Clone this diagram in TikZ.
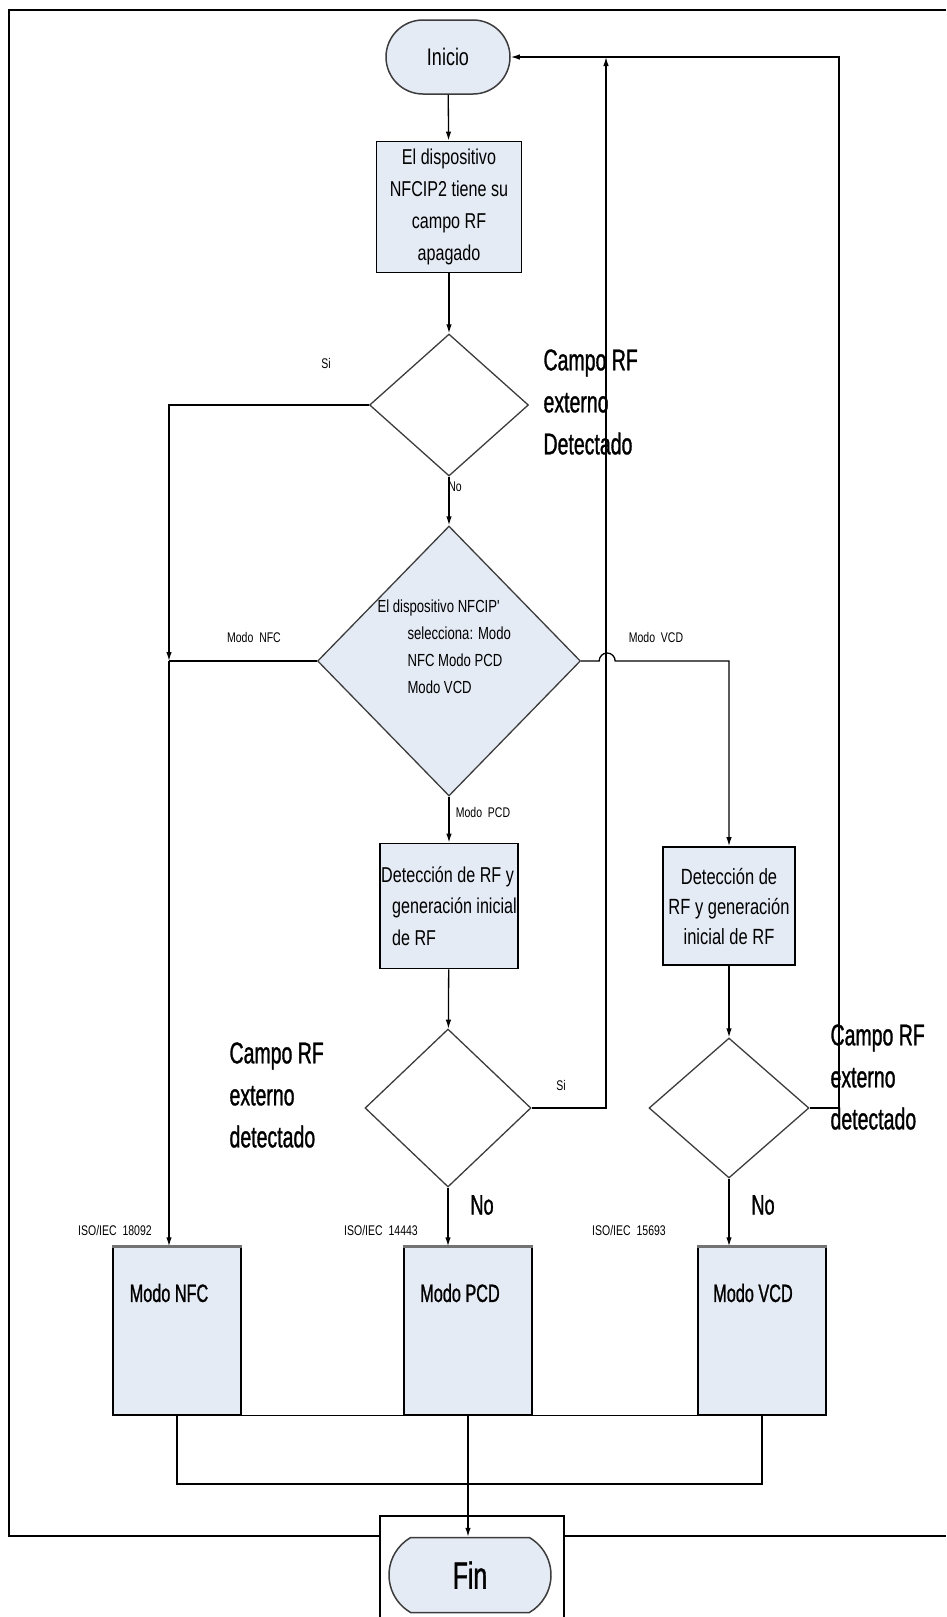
\documentclass[tikz,border=0pt]{standalone}
\usepackage{fontspec}
\newfontfamily\narrowfont[FakeStretch=0.75]{Liberation Sans}
\newfontfamily\condfont[FakeStretch=0.65, FakeBold=1]{Liberation Sans}
\usetikzlibrary{arrows.meta}
\usetikzlibrary{shapes.geometric}
\usetikzlibrary{shapes.misc}
\definecolor{boxblue}{RGB}{229,235,245}
\definecolor{rimgray}{RGB}{60,60,60}
\tikzstyle{arr}=[-{Latex[length=9pt,width=5.5pt]}, line width=1.3pt]
\tikzstyle{ln}=[line width=1.3pt]
\tikzstyle{term}=[rounded rectangle, draw=rimgray, line width=1.5pt, fill=boxblue, inner sep=0pt]
\tikzstyle{proc}=[rectangle, draw=black, line width=1.8pt, fill=boxblue, inner sep=0pt, align=center]
\tikzstyle{dia}=[diamond, draw=rimgray, line width=1.3pt, inner sep=0pt]
\tikzstyle{smalllbl}=[font=\narrowfont\fontsize{14}{16}\selectfont]
\tikzstyle{biglbl}=[font=\condfont\fontsize{30}{42}\selectfont, align=left, anchor=west]
\tikzstyle{topbar}=[line width=3pt, black!55]

\begin{document}
\begin{tikzpicture}[x=1pt, y=-1pt]
      \useasboundingbox (0,0) rectangle (946,1617);

      % marco exterior
      \draw[line width=2pt] (946,10) -- (9,10) -- (9,1536) -- (946,1536);

      \node[term, minimum width=124pt, minimum height=74pt, font=\narrowfont\fontsize{24}{28}\selectfont] (inicio) at (448,57) {Inicio};

      \node[proc, minimum width=145pt, minimum height=131pt, font=\narrowfont\fontsize{21.5}{32}\selectfont] (apag) at (449,207) {El dispositivo\\NFCIP2 tiene su\\campo RF\\apagado};

      \node[dia, minimum width=159pt, minimum height=142pt] (det1) at (449,405) {};
      \node[biglbl] (det1txt) at (540,402) {Campo RF\\externo\\Detectado};
      \node[smalllbl] (si1) at (326,363) {Si};
      \node[smalllbl] (no1) at (455,487) {No};

      \node[dia, fill=boxblue, minimum width=263pt, minimum height=270pt] (selec) at (449,661) {};
      \node[anchor=west, align=left, font=\narrowfont\fontsize{17.5}{27}\selectfont] (selectxt) at (374,647) {El dispositivo NFCIP'\\\hspace*{30pt}selecciona: Modo\\\hspace*{30pt}NFC Modo PCD\\\hspace*{30pt}Modo VCD};
      \node[smalllbl] (lnfc) at (254,637) {Modo\ \ NFC};
      \node[smalllbl] (lvcd) at (656,637) {Modo\ \ VCD};
      \node[smalllbl] (lpcd) at (483,812) {Modo\ \ PCD};

      \node[proc, align=left, minimum width=138pt, minimum height=125pt, font=\narrowfont\fontsize{21.5}{31.5}\selectfont] (detpcd) at (449,906) {Detección de RF y\\\hspace*{11pt}generación inicial\\\hspace*{11pt}de RF};
      \node[proc, minimum width=132pt, minimum height=118pt, font=\narrowfont\fontsize{22}{30}\selectfont] (detvcd) at (729,906) {Detección de\\RF y generación\\inicial de RF};

      \node[dia, minimum width=166pt, minimum height=158pt] (campo2) at (448,1108) {};
      \node[biglbl] (campo2txt) at (226,1095) {Campo RF\\externo\\detectado};
      \node[smalllbl] (si2) at (561,1085) {Si};
      \node[dia, minimum width=160pt, minimum height=140pt] (campo3) at (729,1108) {};
      \node[biglbl] (campo3txt) at (827,1077) {Campo RF\\externo\\detectado};

      \node[biglbl, anchor=center, font=\condfont\fontsize{28}{32}\selectfont] (no2) at (482,1205) {No};
      \node[biglbl, anchor=center, font=\condfont\fontsize{28}{32}\selectfont] (no3) at (763,1205) {No};

      \node[smalllbl] (iso1) at (115,1230) {ISO/IEC\ \ 18092};
      \node[smalllbl] (iso2) at (381,1230) {ISO/IEC\ \ 14443};
      \node[smalllbl] (iso3) at (629,1230) {ISO/IEC\ \ 15693};

      \node[proc, line width=1.5pt, minimum width=128pt, minimum height=168pt] (nfc) at (177,1331) {};
      \node[proc, line width=1.5pt, minimum width=128pt, minimum height=168pt] (pcd) at (468,1331) {};
      \node[proc, line width=1.5pt, minimum width=128pt, minimum height=168pt] (vcd) at (762,1331) {};
      \draw[topbar] (nfc.north west) -- (nfc.north east);
      \draw[topbar] (pcd.north west) -- (pcd.north east);
      \draw[topbar] (vcd.north west) -- (vcd.north east);
      \node[font=\condfont\fontsize{25}{28}\selectfont] (nfctxt) at (169,1293) {Modo NFC};
      \node[font=\condfont\fontsize{25}{28}\selectfont] (pcdtxt) at (460,1293) {Modo PCD};
      \node[font=\condfont\fontsize{25}{28}\selectfont] (vcdtxt) at (753,1293) {Modo VCD};

      \node[draw, fill=white, line width=1.5pt, minimum width=184pt, minimum height=112pt, anchor=north west] (finbox) at (379,1515) {};
      \node[term, rounded rectangle arc length=120, minimum width=162pt, minimum height=75pt, font=\condfont\fontsize{38}{40}\selectfont] (fin) at (470,1575) {Fin};

      \coordinate (jnfc) at (169,661);
      \coordinate (jret) at (606,57);
      \coordinate (jtop) at (839,57);
      \coordinate (jbot) at (468,1484);

      \draw[arr] (inicio) -- (apag);
      \draw[arr] (apag) -- (det1);
      \draw[arr] (det1.west) -| (jnfc);
      \draw[ln] (selec.west) -- (jnfc);
      \draw[arr] (jnfc) -- (jnfc |- nfc.north);
      \draw[arr] (det1) -- (selec);
      \draw[arr] (selec.east) -- ++(18,0) arc[start angle=180, end angle=0, radius=8pt] -| (detvcd.north);
      \draw[arr] (selec) -- (detpcd);
      \draw[arr] (detpcd) -- (campo2);
      \draw[arr] (detvcd) -- (campo3);
      \draw[arr] (campo2.east) -| (jret);
      \draw[arr] (campo3.east) -| (jtop) -- (inicio.east);
      \draw[arr] (campo2.south) -- (campo2.south |- pcd.north);
      \draw[arr] (campo3.south) -- (campo3.south |- vcd.north);
      \draw[ln] (nfc.south west) -- (vcd.south east);
      \draw[ln] (nfc.south) |- (jbot) -| (vcd.south);
      \draw[arr] (pcd.south) -- (pcd.south |- fin.north);
\end{tikzpicture}
\end{document}
